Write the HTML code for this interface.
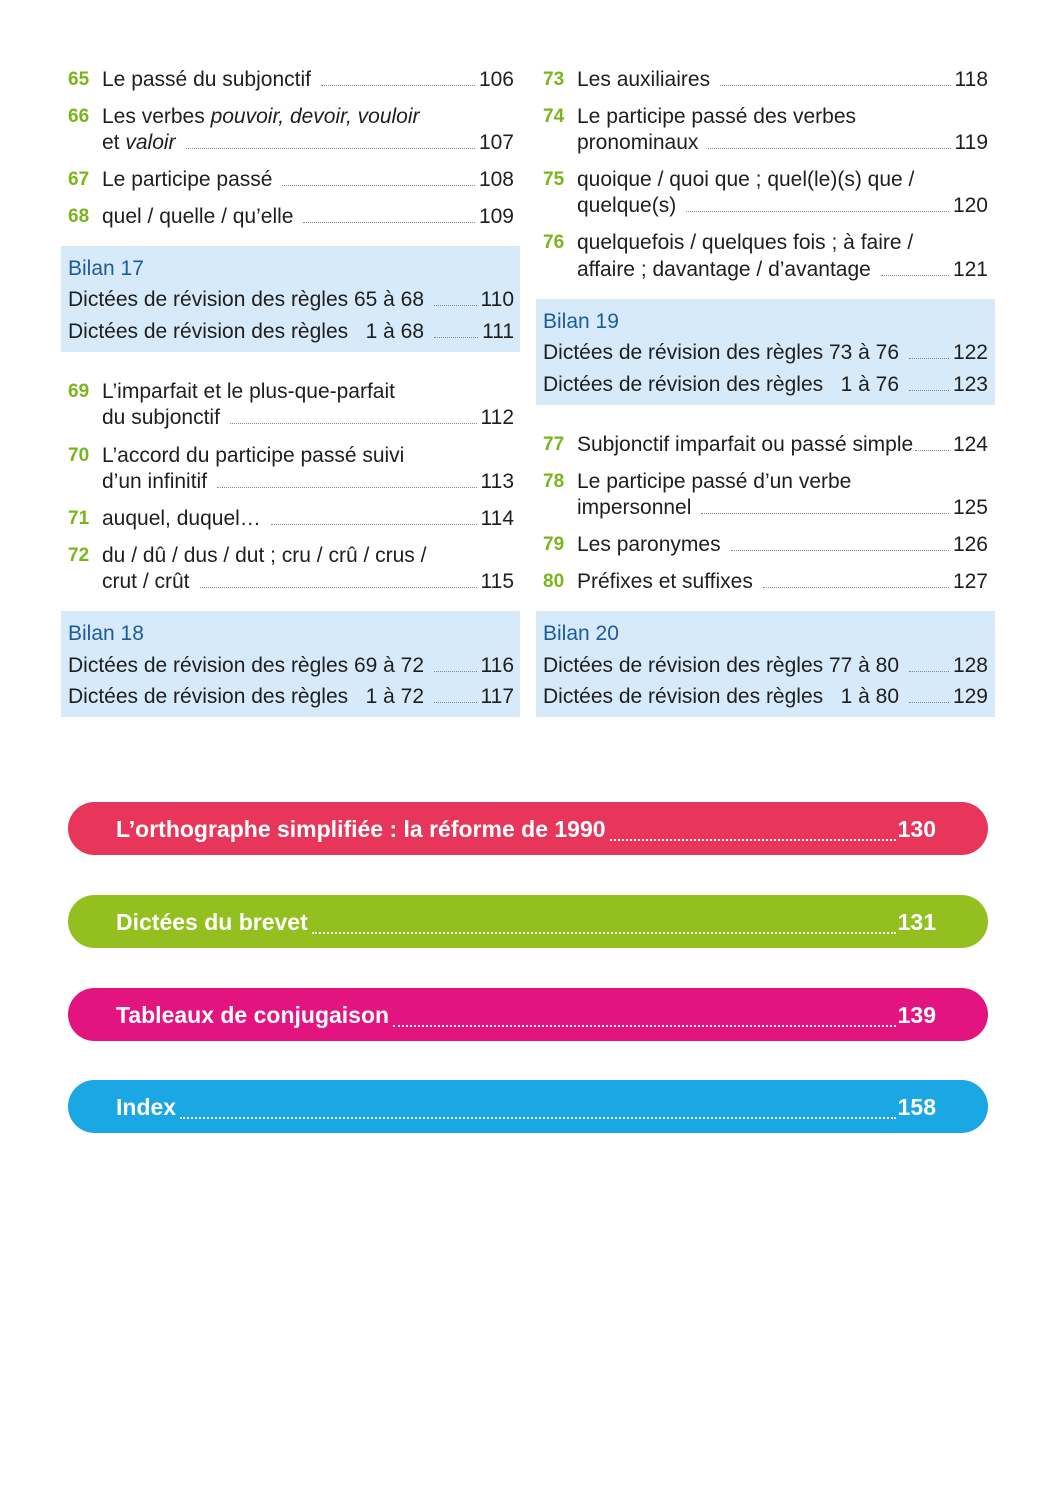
<!DOCTYPE html>
<html><head><meta charset="utf-8"><style>
body{margin:0;width:1057px;height:1500px;background:#fff;position:relative;font-family:"Liberation Sans",sans-serif;color:#1e1e1e;overflow:hidden}
.r{position:absolute;height:26px;line-height:28px;font-size:21px;display:flex;white-space:nowrap}
.n{position:absolute;font-size:19px;color:#7ab51d;line-height:28px;height:26px;font-weight:bold}
.d{flex:1;border-bottom:1.5px dotted #888;margin:0 4px 6px 10px}
.box{position:absolute;background:#d6eaf9}
.b{color:#1d5b9c}
.pill{position:absolute;left:68px;width:920px;height:53px;border-radius:27px;color:#fff;font-weight:bold;font-size:23px;line-height:55px;font-family:"Liberation Sans Narrow","Liberation Sans",sans-serif}
.pill .in{position:absolute;left:48px;right:52px;top:0;display:flex}
.pill .d{border-bottom:2px dotted #fff;margin:0 2px 16px 4px}
</style></head><body>

<div class="box" style="left:61px;top:246px;width:459px;height:106px"></div>
<div class="box" style="left:61px;top:611px;width:459px;height:106px"></div>
<div class="box" style="left:536px;top:299px;width:459px;height:106px"></div>
<div class="box" style="left:536px;top:611px;width:459px;height:106px"></div>

<!-- Left column -->
<div class="n" style="left:68px;top:66px">65</div>
<div class="r" style="left:102px;width:412px;top:66px"><span>Le passé du subjonctif</span><span class="d"></span><span>106</span></div>
<div class="n" style="left:68px;top:103px">66</div>
<div class="r" style="left:102px;top:103px"><span>Les verbes <i>pouvoir, devoir, vouloir</i></span></div>
<div class="r" style="left:102px;width:412px;top:129px"><span>et <i>valoir</i></span><span class="d"></span><span>107</span></div>
<div class="n" style="left:68px;top:166px">67</div>
<div class="r" style="left:102px;width:412px;top:166px"><span>Le participe passé</span><span class="d"></span><span>108</span></div>
<div class="n" style="left:68px;top:203px">68</div>
<div class="r" style="left:102px;width:412px;top:203px"><span>quel / quelle / qu’elle</span><span class="d"></span><span>109</span></div>
<div class="r b" style="left:68px;top:255px">Bilan 17</div>
<div class="r" style="left:68px;width:446px;top:286px"><span>Dictées de révision des règles 65 à 68</span><span class="d"></span><span>110</span></div>
<div class="r" style="left:68px;width:446px;top:318px"><span>Dictées de révision des règles &nbsp;&nbsp;1 à 68</span><span class="d"></span><span>111</span></div>

<div class="n" style="left:68px;top:378px">69</div>
<div class="r" style="left:102px;top:378px">L’imparfait et le plus-que-parfait</div>
<div class="r" style="left:102px;width:412px;top:404px"><span>du subjonctif</span><span class="d"></span><span>112</span></div>
<div class="n" style="left:68px;top:442px">70</div>
<div class="r" style="left:102px;top:442px">L’accord du participe passé suivi</div>
<div class="r" style="left:102px;width:412px;top:468px"><span>d’un infinitif</span><span class="d"></span><span>113</span></div>
<div class="n" style="left:68px;top:505px">71</div>
<div class="r" style="left:102px;width:412px;top:505px"><span>auquel, duquel…</span><span class="d"></span><span>114</span></div>
<div class="n" style="left:68px;top:542px">72</div>
<div class="r" style="left:102px;top:542px">du / dû / dus / dut ; cru / crû / crus /</div>
<div class="r" style="left:102px;width:412px;top:568px"><span>crut / crût</span><span class="d"></span><span>115</span></div>
<div class="r b" style="left:68px;top:620px">Bilan 18</div>
<div class="r" style="left:68px;width:446px;top:652px"><span>Dictées de révision des règles 69 à 72</span><span class="d"></span><span>116</span></div>
<div class="r" style="left:68px;width:446px;top:683px"><span>Dictées de révision des règles &nbsp;&nbsp;1 à 72</span><span class="d"></span><span>117</span></div>

<!-- Right column -->
<div class="n" style="left:543px;top:66px">73</div>
<div class="r" style="left:577px;width:411px;top:66px"><span>Les auxiliaires</span><span class="d"></span><span>118</span></div>
<div class="n" style="left:543px;top:103px">74</div>
<div class="r" style="left:577px;top:103px">Le participe passé des verbes</div>
<div class="r" style="left:577px;width:411px;top:129px"><span>pronominaux</span><span class="d"></span><span>119</span></div>
<div class="n" style="left:543px;top:166px">75</div>
<div class="r" style="left:577px;top:166px">quoique / quoi que ; quel(le)(s) que /</div>
<div class="r" style="left:577px;width:411px;top:192px"><span>quelque(s)</span><span class="d"></span><span>120</span></div>
<div class="n" style="left:543px;top:229px">76</div>
<div class="r" style="left:577px;top:229px">quelquefois / quelques fois ; à faire /</div>
<div class="r" style="left:577px;width:411px;top:256px"><span>affaire ; davantage / d’avantage</span><span class="d"></span><span>121</span></div>
<div class="r b" style="left:543px;top:308px">Bilan 19</div>
<div class="r" style="left:543px;width:445px;top:339px"><span>Dictées de révision des règles 73 à 76</span><span class="d"></span><span>122</span></div>
<div class="r" style="left:543px;width:445px;top:371px"><span>Dictées de révision des règles &nbsp;&nbsp;1 à 76</span><span class="d"></span><span>123</span></div>
<div class="n" style="left:543px;top:431px">77</div>
<div class="r" style="left:577px;width:411px;top:431px"><span>Subjonctif imparfait ou passé simple</span><span class="d" style="margin-left:2px"></span><span>124</span></div>
<div class="n" style="left:543px;top:468px">78</div>
<div class="r" style="left:577px;top:468px">Le participe passé d’un verbe</div>
<div class="r" style="left:577px;width:411px;top:494px"><span>impersonnel</span><span class="d"></span><span>125</span></div>
<div class="n" style="left:543px;top:531px">79</div>
<div class="r" style="left:577px;width:411px;top:531px"><span>Les paronymes</span><span class="d"></span><span>126</span></div>
<div class="n" style="left:543px;top:568px">80</div>
<div class="r" style="left:577px;width:411px;top:568px"><span>Préfixes et suffixes</span><span class="d"></span><span>127</span></div>
<div class="r b" style="left:543px;top:620px">Bilan 20</div>
<div class="r" style="left:543px;width:445px;top:652px"><span>Dictées de révision des règles 77 à 80</span><span class="d"></span><span>128</span></div>
<div class="r" style="left:543px;width:445px;top:683px"><span>Dictées de révision des règles &nbsp;&nbsp;1 à 80</span><span class="d"></span><span>129</span></div>

<!-- Pills -->
<div class="pill" style="top:802px;background:#e8355a"><div class="in"><span>L’orthographe simplifiée : la réforme de 1990</span><span class="d"></span><span>130</span></div></div>
<div class="pill" style="top:895px;background:#93c01f"><div class="in"><span>Dictées du brevet</span><span class="d"></span><span>131</span></div></div>
<div class="pill" style="top:988px;background:#e3137f"><div class="in"><span>Tableaux de conjugaison</span><span class="d"></span><span>139</span></div></div>
<div class="pill" style="top:1080px;background:#1ba6e4"><div class="in"><span>Index</span><span class="d"></span><span>158</span></div></div>
</body></html>
